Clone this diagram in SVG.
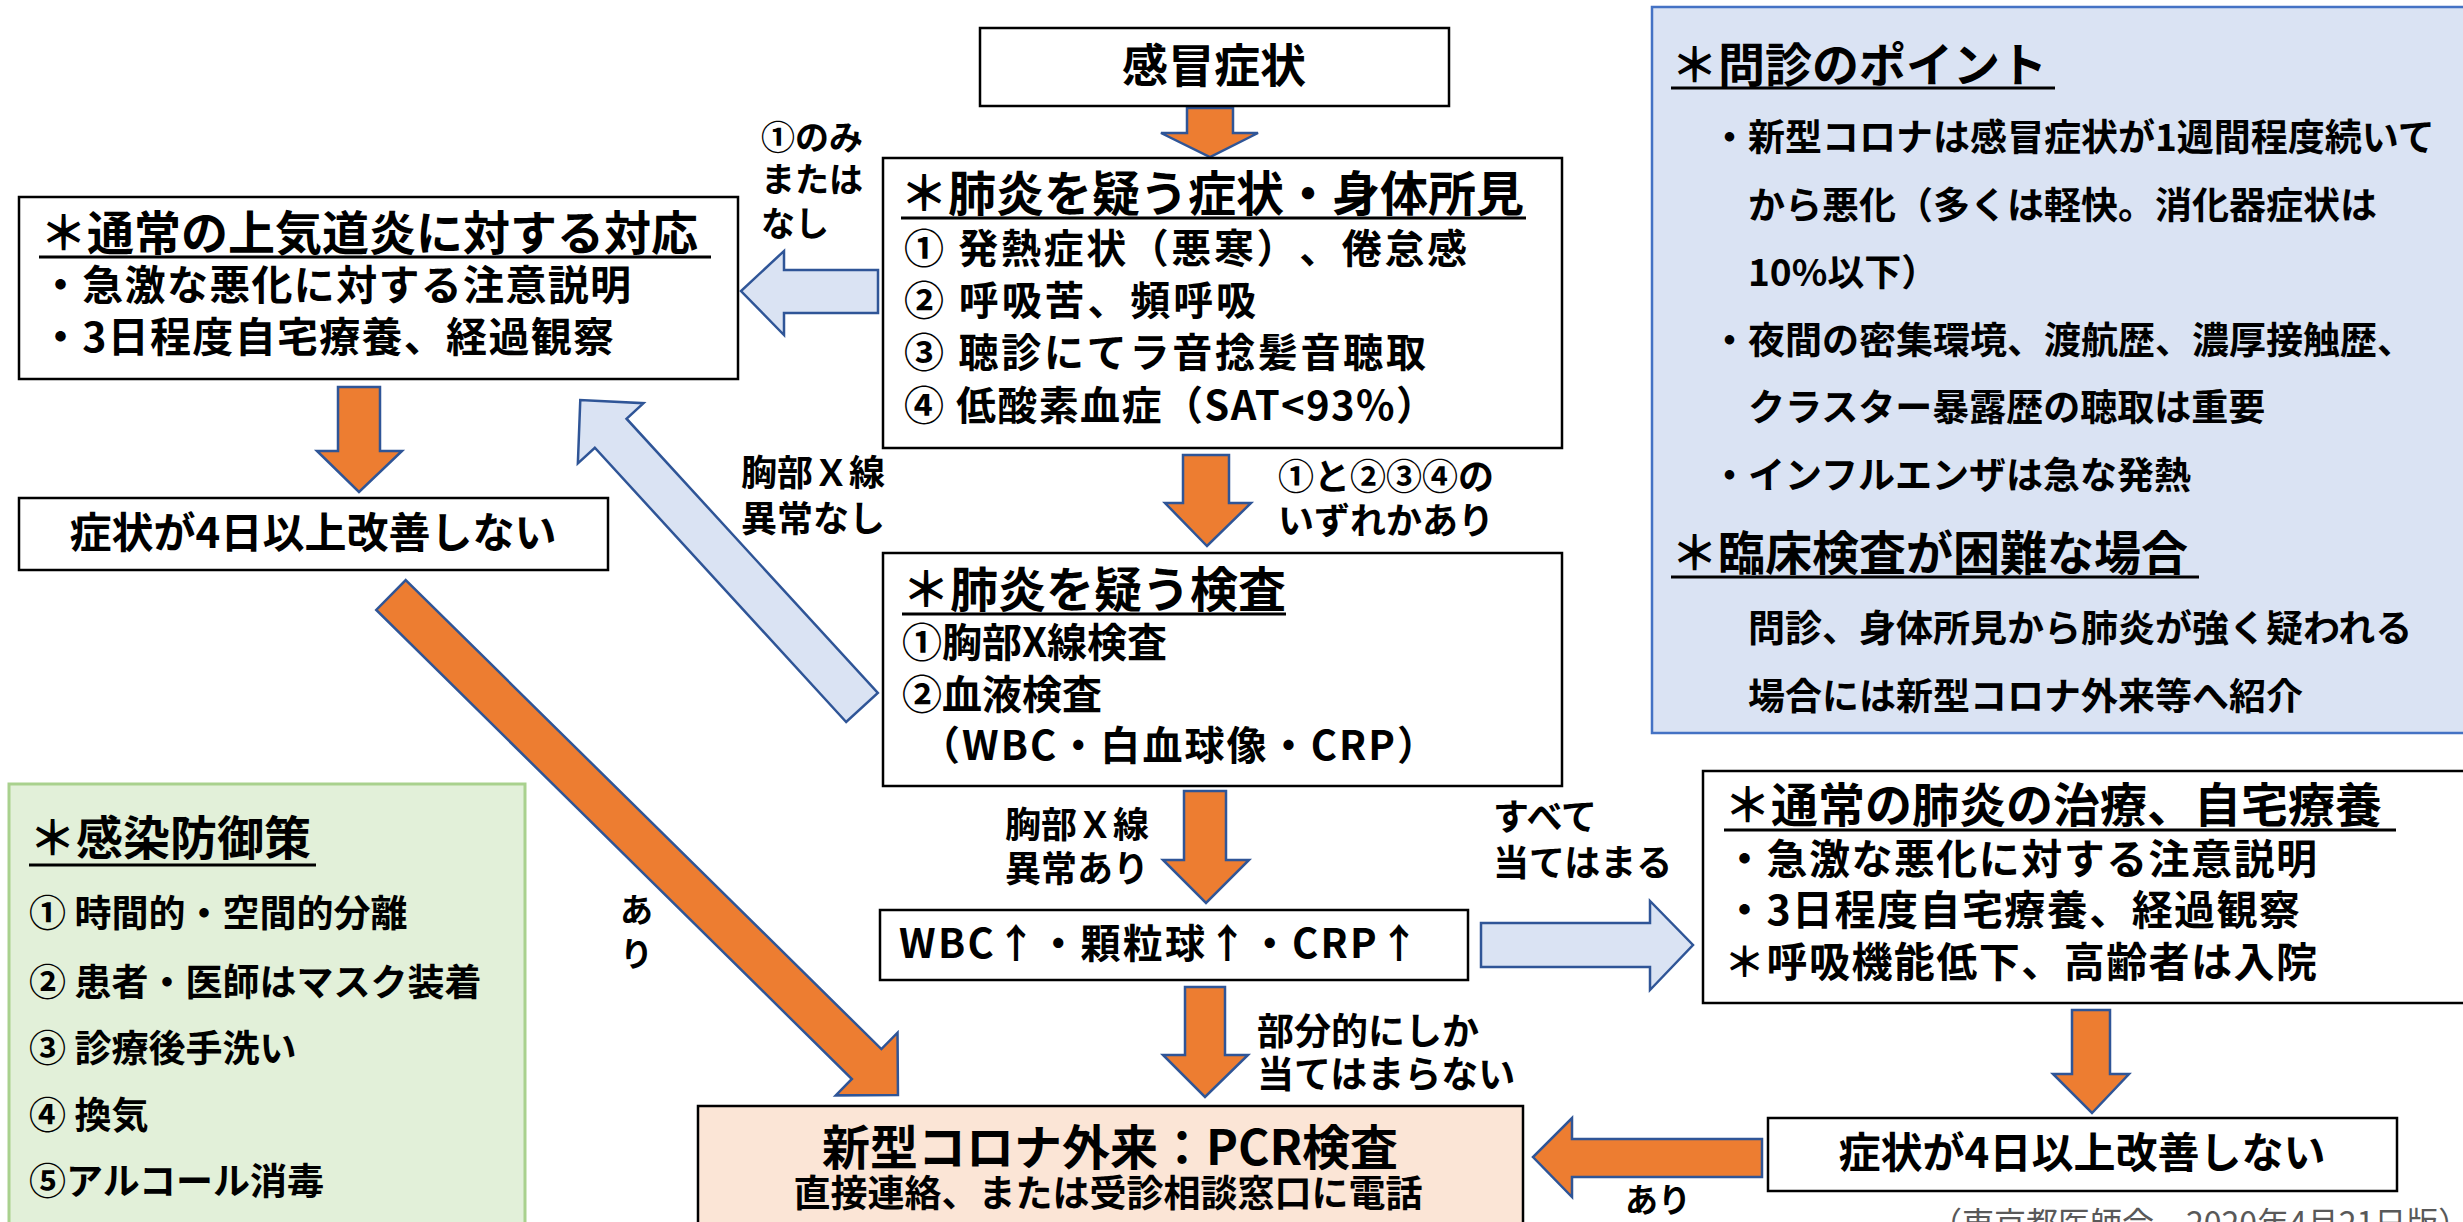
<svg xmlns="http://www.w3.org/2000/svg" width="2463" height="1222" viewBox="0 0 2463 1222">
<style>
.t{font-family:"Noto Sans CJK JP","Noto Sans",sans-serif;font-weight:700;fill:#000;text-spacing-trim:space-all}
.ttl{font-size:47px}
.b40{font-size:40px}
.b41{font-size:41px}
.b37{font-size:37px}
.lbl{font-size:36px}
.g37{font-size:37px}
.box{fill:#fff;stroke:#000;stroke-width:2.5}
.or{fill:#ED7D31;stroke:#2F5597;stroke-width:2.5}
.bl{fill:#DAE3F3;stroke:#2F5597;stroke-width:2.5}
.ul{stroke:#000;stroke-width:3}
.c{text-anchor:middle}
</style>

<g id="connectors">
  <polygon class="or" points="1187,108 1233,108 1233,133 1258,133 1210,157 1161,133 1187,133"/>
  <polygon class="or" points="338,387 380,387 380,451 402,451 359,492 317,451 338,451"/>
  <polygon class="or" points="1183,455 1229,455 1229,503 1251,503 1207,546 1165,503 1183,503"/>
  <polygon class="or" points="1184,791 1226,791 1226,860 1249,860 1206,903 1163,860 1184,860"/>
  <polygon class="or" points="1185,987 1225,987 1225,1055 1248,1055 1205,1097 1163,1055 1185,1055"/>
  <polygon class="or" points="2072,1010 2110,1010 2110,1074 2129,1074 2092,1113 2053,1074 2072,1074"/>
  <polygon class="or" points="1762,1139 1762,1177 1572,1177 1572,1197 1533,1157 1572,1118 1572,1139"/>
  <polygon class="or" transform="translate(391,595) rotate(44.6)" points="0,-21 668,-21 668,-44 712,0 668,44 668,21 0,21"/>
  <polygon class="bl" transform="translate(862,707.5) rotate(-132.5)" points="0,-21.5 372,-21.5 372,-44.5 417,0 372,44.5 372,21.5 0,21.5"/>
  <polygon class="bl" points="878,270 878,313 784,313 784,335 741,291 784,251 784,270"/>
  <polygon class="bl" points="1481,923 1650,923 1650,901 1693,945 1650,990 1650,967 1481,967"/>

  <text class="t" style="font-size:34px" x="761" y="150">①のみ</text>
  <text class="t" style="font-size:34px" x="761" y="192">または</text>
  <text class="t" style="font-size:34px" x="761" y="236">なし</text>
  <text class="t lbl" x="1278" y="490">①と②③④の</text>
  <text class="t lbl" x="1278" y="534">いずれかあり</text>
  <text class="t lbl" x="741" y="486">胸部Ｘ線</text>
  <text class="t lbl" x="741" y="532">異常なし</text>
  <text class="t lbl" x="1005" y="838">胸部Ｘ線</text>
  <text class="t lbl" x="1005" y="882">異常あり</text>
  <text class="t lbl" x="1493" y="830">すべて</text>
  <text class="t lbl" x="1493" y="876">当てはまる</text>
  <text class="t b37" x="1257" y="1045">部分的にしか</text>
  <text class="t b37" x="1257" y="1088">当てはまらない</text>
  <text class="t" style="font-size:33px" x="1625" y="1212">あり</text>
  <text class="t" style="font-size:33px" x="620" y="922">あ</text>
  <text class="t" style="font-size:33px" x="620" y="966">り</text>
</g>

<g id="panel-interview">
  <rect x="1652" y="7" width="820" height="726" fill="#DAE3F3" stroke="#4472C4" stroke-width="2.5"/>
  <text class="t ttl" x="1671" y="82">＊問診のポイント</text>
  <line class="ul" x1="1671" y1="88" x2="2055" y2="88"/>
  <text class="t b37" x="1711" y="151">・新型コロナは感冒症状が1週間程度続いて</text>
  <text class="t b37" x="1748" y="219">から悪化（多くは軽快。消化器症状は</text>
  <text class="t b37" x="1748" y="286">10%以下）</text>
  <text class="t b37" x="1711" y="354">・夜間の密集環境、渡航歴、濃厚接触歴、</text>
  <text class="t b37" x="1748" y="421">クラスター暴露歴の聴取は重要</text>
  <text class="t b37" x="1711" y="489">・インフルエンザは急な発熱</text>
  <text class="t ttl" x="1671" y="570">＊臨床検査が困難な場合</text>
  <line class="ul" x1="1671" y1="577" x2="2199" y2="577"/>
  <text class="t b37" x="1748" y="642">問診、身体所見から肺炎が強く疑われる</text>
  <text class="t b37" x="1748" y="710">場合には新型コロナ外来等へ紹介</text>
</g>

<g id="panel-prevention">
  <rect x="9" y="784" width="516" height="460" fill="#E2F0D9" stroke="#A9D18E" stroke-width="3"/>
  <text class="t ttl" x="29" y="855">＊感染防御策</text>
  <line class="ul" x1="29" y1="865" x2="316" y2="865"/>
  <text class="t g37" x="29" y="927">① 時間的・空間的分離</text>
  <text class="t g37" x="29" y="996">② 患者・医師はマスク装着</text>
  <text class="t g37" x="29" y="1062">③ 診療後手洗い</text>
  <text class="t g37" x="29" y="1129">④ 換気</text>
  <text class="t g37" x="29" y="1195">⑤アルコール消毒</text>
</g>

<g id="node-cold">
  <rect class="box" x="980" y="28" width="469" height="78"/>
  <text class="t c" style="font-size:46px" x="1214" y="82">感冒症状</text>
</g>

<g id="node-pneumonia-signs">
  <rect class="box" x="883" y="158" width="679" height="290"/>
  <text class="t" style="font-size:48px" x="900" y="211">＊肺炎を疑う症状・身体所見</text>
  <line class="ul" x1="901" y1="218" x2="1526" y2="218"/>
  <text class="t b40" x="904" y="263" textLength="563">① 発熱症状（悪寒）、倦怠感</text>
  <text class="t b40" x="904" y="315" textLength="352">② 呼吸苦、頻呼吸</text>
  <text class="t b40" x="904" y="367" textLength="522">③ 聴診にてラ音捻髪音聴取</text>
  <text class="t b40" x="904" y="420" textLength="532">④ 低酸素血症（SAT&lt;93%）</text>
</g>

<g id="node-uri">
  <rect class="box" x="19" y="197" width="719" height="182"/>
  <text class="t ttl" x="40" y="250">＊通常の上気道炎に対する対応</text>
  <line class="ul" x1="39" y1="257" x2="711" y2="257"/>
  <text class="t b41" x="40" y="300" textLength="591">・急激な悪化に対する注意説明</text>
  <text class="t b41" x="40" y="352" textLength="574">・3日程度自宅療養、経過観察</text>
</g>

<g id="node-no-improve-left">
  <rect class="box" x="19" y="498" width="589" height="72"/>
  <text class="t c" style="font-size:42px" x="313" y="548">症状が4日以上改善しない</text>
</g>

<g id="node-tests">
  <rect class="box" x="883" y="553" width="679" height="233"/>
  <text class="t" style="font-size:48px" x="902" y="607">＊肺炎を疑う検査</text>
  <line class="ul" x1="902" y1="614" x2="1286" y2="614"/>
  <text class="t b40" x="902" y="657">①胸部X線検査</text>
  <text class="t b40" x="902" y="709">②血液検査</text>
  <text class="t b40" x="920" y="760" textLength="517">（WBC・白血球像・CRP）</text>
</g>

<g id="node-lab">
  <rect class="box" x="880" y="910" width="588" height="70"/>
  <text class="t b40" x="899" y="958" textLength="520">WBC↑・顆粒球↑・CRP↑</text>
</g>

<g id="node-usual-pneumonia">
  <rect class="box" x="1703" y="771" width="800" height="232"/>
  <text class="t ttl" x="1724" y="822">＊通常の肺炎の治療、自宅療養</text>
  <line class="ul" x1="1724" y1="830" x2="2396" y2="830"/>
  <text class="t b41" x="1724" y="874" textLength="593">・急激な悪化に対する注意説明</text>
  <text class="t b41" x="1724" y="925" textLength="576">・3日程度自宅療養、経過観察</text>
  <text class="t b41" x="1724" y="977" textLength="593">＊呼吸機能低下、高齢者は入院</text>
</g>

<g id="node-no-improve-right">
  <rect class="box" x="1768" y="1118" width="629" height="73"/>
  <text class="t c" style="font-size:42px" x="2082" y="1168">症状が4日以上改善しない</text>
</g>

<g id="node-covid">
  <rect x="698" y="1106" width="825" height="140" fill="#FBE5D6" stroke="#000" stroke-width="2.5"/>
  <text class="t c" style="font-size:48px" x="1110" y="1165">新型コロナ外来：PCR検査</text>
  <text class="t c b37" x="1108" y="1207">直接連絡、または受診相談窓口に電話</text>
</g>

<text x="1930" y="1235" style="font-family:'Noto Sans CJK JP','Noto Sans',sans-serif;font-size:32px;fill:#595959">（東京都医師会　2020年4月21日版）</text>
</svg>
